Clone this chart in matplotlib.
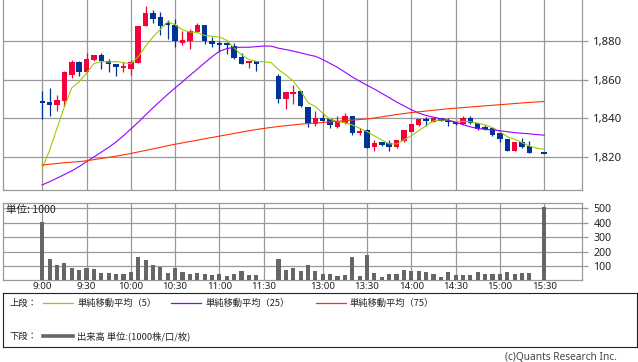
import numpy as np
import matplotlib
matplotlib.use("Agg")
import matplotlib.pyplot as plt

plt.rcParams['font.family'] = ['Noto Sans', 'Noto Sans CJK JP', 'DejaVu Sans']
JP = ['Noto Sans CJK JP', 'DejaVu Sans']

nan = np.nan

# 5-minute bars, slot index 0 = 9:00 ... 68 = 15:30 (30/31 lunch, 67 closing auction)
opens = [1848.5, 1848.5, 1847.0, 1849.0, 1862.5, 1869.0, 1864.0, 1870.5, 1873.0, 1870.0,
         1868.0, 1866.3, 1865.5, 1868.6, 1888.0, 1894.5, 1892.5, 1889.0, 1888.5, 1879.3,
         1880.0, 1884.7, 1888.5, 1880.2, 1879.3, 1878.6, 1877.6, 1872.0, 1868.9, 1869.9,
         nan, nan, 1862.0, 1850.0, 1852.8, 1854.2, 1846.0, 1837.0, 1840.4, 1839.5,
         1835.7, 1837.5, 1841.0, 1832.3, 1834.0, 1825.0, 1827.1, 1827.1, 1825.3, 1828.4,
         1833.1, 1836.6, 1839.5, 1838.3, 1839.7, 1838.8, 1838.3, 1837.0, 1840.0, 1837.5,
         1835.7, 1834.9, 1832.3, 1829.3, 1823.3, 1827.9, 1825.7, nan, 1821.6]
highs = [1854.4, 1856.0, 1852.0, 1864.7, 1870.3, 1870.0, 1874.0, 1873.0, 1874.0, 1871.0,
         1868.2, 1869.4, 1870.3, 1888.0, 1898.3, 1896.2, 1895.0, 1891.0, 1891.5, 1885.3,
         1886.2, 1889.3, 1888.5, 1882.0, 1880.3, 1879.8, 1879.0, 1874.1, 1869.8, 1870.0,
         nan, nan, 1863.0, 1853.7, 1857.3, 1854.2, 1846.0, 1843.8, 1842.7, 1839.6,
         1841.2, 1842.8, 1841.3, 1835.2, 1834.5, 1828.8, 1827.4, 1828.8, 1829.0, 1834.0,
         1837.1, 1839.8, 1840.6, 1840.6, 1840.0, 1840.2, 1838.5, 1841.0, 1841.0, 1837.7,
         1836.5, 1835.0, 1832.5, 1829.3, 1828.0, 1829.7, 1828.3, nan, 1821.6]
lows = [1839.5, 1841.3, 1844.0, 1846.4, 1861.0, 1862.0, 1864.0, 1870.0, 1865.5, 1864.0,
        1862.0, 1864.2, 1862.5, 1868.5, 1888.0, 1889.6, 1883.0, 1881.0, 1877.0, 1878.0,
        1876.0, 1884.7, 1878.8, 1877.2, 1874.3, 1873.4, 1870.7, 1868.2, 1866.0, 1864.6,
        nan, nan, 1848.0, 1845.0, 1847.5, 1845.8, 1835.7, 1836.3, 1838.7, 1834.9,
        1835.2, 1837.0, 1831.5, 1831.4, 1824.5, 1823.3, 1825.7, 1823.3, 1824.6, 1828.0,
        1833.0, 1836.0, 1836.0, 1838.0, 1838.5, 1835.8, 1836.8, 1836.6, 1837.0, 1834.0,
        1834.0, 1830.8, 1827.6, 1823.3, 1823.3, 1824.5, 1822.2, nan, 1821.4]
closes = [1848.0, 1847.0, 1849.5, 1864.0, 1869.5, 1864.0, 1871.0, 1873.0, 1870.0, 1868.0,
          1866.5, 1867.2, 1869.0, 1888.0, 1894.5, 1891.7, 1888.0, 1888.5, 1880.0, 1880.7,
          1885.3, 1888.5, 1880.2, 1878.8, 1878.2, 1877.9, 1871.5, 1868.2, 1869.8, 1868.2,
          nan, nan, 1850.0, 1853.7, 1853.7, 1846.6, 1837.5, 1840.4, 1838.7, 1836.4,
          1838.2, 1841.0, 1832.3, 1833.5, 1824.5, 1827.1, 1826.4, 1825.0, 1828.8, 1834.0,
          1837.1, 1839.5, 1838.5, 1840.4, 1838.9, 1838.0, 1837.0, 1840.0, 1837.5, 1834.5,
          1834.5, 1831.4, 1829.3, 1823.3, 1827.6, 1825.3, 1822.2, nan, 1821.4]

ma5 = [1814.1, 1823.6, 1834.9, 1846.1, 1855.8, 1859.0, 1863.5, 1868.4, 1869.5, 1869.3,
       1869.5, 1868.9, 1868.3, 1872.0, 1877.5, 1882.2, 1886.2, 1890.1, 1888.6, 1885.9,
       1884.8, 1884.6, 1883.0, 1882.6, 1882.2, 1880.5, 1876.5, 1873.0, 1870.5, 1869.6,
       1869.3, 1869.0, 1865.3, 1862.5, 1859.4, 1854.4, 1848.2, 1846.1, 1842.7, 1839.5,
       1838.3, 1837.8, 1836.6, 1834.9, 1833.1, 1830.9, 1828.8, 1826.8, 1826.7, 1828.8,
       1831.0, 1833.6, 1836.2, 1838.7, 1839.2, 1839.0, 1838.3, 1838.5, 1838.3, 1837.5,
       1836.6, 1835.2, 1833.1, 1830.5, 1829.2, 1827.4, 1825.7, 1824.5, 1824.0]
ma25 = [1805.5, 1807.2, 1809.0, 1810.9, 1812.8, 1815.0, 1817.6, 1820.0, 1822.5, 1825.0,
        1827.8, 1831.0, 1834.5, 1838.0, 1841.8, 1845.5, 1849.0, 1852.5, 1855.8, 1859.0,
        1862.3, 1865.5, 1868.8, 1872.0, 1874.8, 1876.2, 1876.8, 1876.9, 1876.9, 1877.2,
        1877.5, 1877.5, 1876.4, 1875.7, 1874.9, 1874.0, 1873.0, 1872.2, 1870.5, 1868.5,
        1866.5, 1864.0, 1861.5, 1859.3, 1857.2, 1855.2, 1853.0, 1850.8, 1848.5, 1846.5,
        1844.5, 1842.8, 1841.5, 1840.6, 1839.8, 1839.0, 1837.9, 1836.8, 1835.6, 1834.8,
        1834.3, 1834.0, 1833.6, 1833.1, 1832.6, 1832.3, 1832.0, 1831.6, 1831.3]
ma75 = [1815.8, 1816.2, 1816.6, 1817.0, 1817.3, 1817.6, 1818.0, 1818.6, 1819.2, 1819.8,
        1820.4, 1821.1, 1821.8, 1822.6, 1823.4, 1824.2, 1825.0, 1825.8, 1826.6, 1827.3,
        1828.0, 1828.7, 1829.4, 1830.1, 1830.8, 1831.5, 1832.2, 1832.9, 1833.6, 1834.2,
        1834.8, 1835.3, 1835.8, 1836.2, 1836.6, 1837.0, 1837.3, 1837.6, 1837.9, 1838.2,
        1838.5, 1838.8, 1839.1, 1839.4, 1839.7, 1840.2, 1840.8, 1841.4, 1842.0, 1842.5,
        1843.0, 1843.4, 1843.8, 1844.2, 1844.6, 1845.0, 1845.3, 1845.6, 1845.9, 1846.2,
        1846.5, 1846.8, 1847.1, 1847.4, 1847.7, 1848.0, 1848.3, 1848.5, 1848.8]

volume = [403, 148, 107, 123, 86, 72, 86, 79, 54, 54,
          44, 44, 61, 163, 142, 107, 93, 54, 86, 58,
          47, 51, 44, 37, 44, 30, 44, 65, 37, 37,
          5, nan, 148, 72, 86, 65, 107, 65, 44, 44,
          30, 37, 163, 30, 176, 51, 23, 44, 44, 72,
          65, 65, 58, 44, 23, 58, 37, 37, 37, 58,
          44, 44, 44, 58, 44, 51, 51, nan, 512]

time_pos = [0, 6, 12, 18, 24, 30, 38, 44, 50, 56, 62, 68]
time_labels = ['9:00', '9:30', '10:00', '10:30', '11:00', '11:30',
               '13:00', '13:30', '14:00', '14:30', '15:00', '15:30']
price_ticks = [1820, 1840, 1860, 1880]
vol_ticks = [100, 200, 300, 400, 500]

RED, BLUE = '#f5003c', '#003399'
GRID = '#999999'

W, H = 638, 362
fig = plt.figure(figsize=(W / 100, H / 100), dpi=100)


def box(l, t, r, b):
    return [l / W, 1 - b / H, (r - l) / W, (b - t) / H]


ax = fig.add_axes(box(3.3, 0, 582.3, 190.3))
vax = fig.add_axes(box(3.3, 203.3, 582.3, 280.4))

x = np.arange(len(closes))
o = np.array(opens); c = np.array(closes)
h = np.array(highs); l = np.array(lows)
ok = ~np.isnan(c)
col = np.where(c >= o, RED, BLUE)

# candles
ax.vlines(x[ok], l[ok], h[ok], colors=col[ok], lw=0.9, zorder=3)
body_h = np.maximum(np.abs(c - o), 1.1)
ax.bar(x[ok], body_h[ok], bottom=np.minimum(o, c)[ok], width=0.74,
       color=col[ok], zorder=4)

ax.plot(x, ma5, color='#99cc00', lw=0.8, zorder=5)
ax.plot(x, ma25, color='#9900ff', lw=0.8, zorder=5)
ax.plot(x, ma75, color='#ff3300', lw=0.8, zorder=5)

vax.bar(x, volume, width=0.56, color='#666666', zorder=3)

for a in (ax, vax):
    a.set_xlim(-5.28, 73.17)
    a.set_xticks(time_pos)
    a.grid(True, color=GRID, lw=0.9)
    a.set_axisbelow(True)
    for s in a.spines.values():
        s.set_color(GRID)
        s.set_linewidth(0.9)
    a.yaxis.tick_right()
    a.tick_params(axis='y', length=4, color=GRID, width=0.9, pad=4,
                  labelcolor='#222222')
    a.tick_params(axis='x', length=0)

ax.spines['top'].set_visible(False)
ax.set_ylim(1802.7, 1901.4)
ax.set_yticks(price_ticks)
ax.set_yticklabels([f'{v:,}' for v in price_ticks], fontsize=8.2)
ax.set_xticklabels([])

vax.set_ylim(0, 535)
vax.set_yticks(vol_ticks)
vax.set_yticklabels([str(v) for v in vol_ticks], fontsize=7.6)
vax.set_xticklabels(time_labels, fontsize=7, color='#222222')
vax.tick_params(axis='x', pad=1.5)
vax.text(0.004, 0.92, '単位: 1000', transform=vax.transAxes, fontsize=7.6,
         family=JP, va='center', ha='left', color='#222222')

# legend box
lax = fig.add_axes(box(3.3, 293, 636.7, 347))
lax.set_xlim(3.3, 636.7)
lax.set_ylim(347, 293)
lax.set_xticks([]); lax.set_yticks([])
for s in lax.spines.values():
    s.set_color('#222222')
    s.set_linewidth(0.8)

r1, r2 = 303, 336
fs = 6.7
lax.text(9, r1, '上段：', family=JP, fontsize=fs, va='center', color='#222222')
items = [(43, '#99cc00', '単純移動平均（5）'),
         (171, '#9900ff', '単純移動平均（25）'),
         (316, '#ff3300', '単純移動平均（75）')]
for x0, cl, txt in items:
    lax.plot([x0, x0 + 30], [r1, r1], color=cl, lw=0.9)
    lax.text(x0 + 34, r1, txt, family=JP, fontsize=fs, va='center', color='#222222')
lax.text(9, r2, '下段：', family=JP, fontsize=fs, va='center', color='#222222')
lax.plot([43, 73], [r2, r2], color='#666666', lw=2.6)
lax.text(77, r2, '出来高 単位:(1000株/口/枚)', family=JP, fontsize=fs,
         va='center', color='#222222')

fig.text(617 / W, 1 - 357 / H, '(c)Quants Research Inc.', ha='right',
         va='center', fontsize=7.3, color='#444444')

fig.savefig('out.png', dpi=100)
